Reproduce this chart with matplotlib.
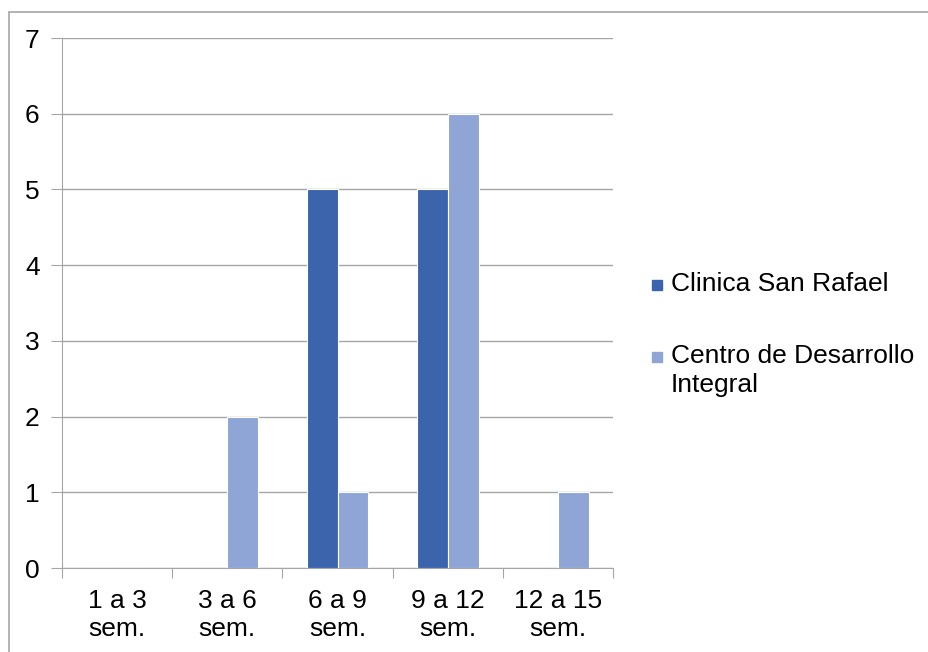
import numpy as np
import matplotlib.pyplot as plt
from matplotlib.patches import Rectangle

plt.rcParams['font.family'] = ['Liberation Sans', 'DejaVu Sans']

categorias = ['1 a 3\nsem.', '3 a 6\nsem.', '6 a 9\nsem.', '9 a 12\nsem.', '12 a 15\nsem.']
clinica = [0, 0, 5, 5, 0]
centro = [0, 2, 1, 6, 1]
series = ['Clinica San Rafael', 'Centro de Desarrollo\nIntegral']
colores = ['#3B64AD', '#8FA5D6']

fig = plt.figure(figsize=(9.29, 6.52), dpi=100)
ax = fig.add_axes([0.0667, 0.1288, 0.5933, 0.8129])

# marco gris alrededor del grafico
fig.patches.append(Rectangle((0.0097, -0.05), 1.1, 1.0316, transform=fig.transFigure,
                             fill=False, edgecolor='#A6A6A6', linewidth=1.2))

x = np.arange(len(categorias))
w = 0.28
ax.bar(x - w / 2, clinica, w, color=colores[0], edgecolor='white', linewidth=0.8, zorder=3)
ax.bar(x + w / 2, centro, w, color=colores[1], edgecolor='white', linewidth=0.8, zorder=3)

ax.set_xlim(-0.5, len(categorias) - 0.5)
ax.set_ylim(0, 7)
ax.set_yticks(range(8))
ax.yaxis.grid(True, color='#A6A6A6', linewidth=1)
ax.set_axisbelow(True)

# marcas en los limites de cada categoria, etiquetas centradas
ax.set_xticks(np.arange(-0.5, len(categorias), 1))
ax.set_xticklabels([])
ax.set_xticks(x, minor=True)
ax.set_xticklabels(categorias, minor=True, fontsize=19, linespacing=1.2)
ax.tick_params(axis='x', which='major', length=7, color='#A6A6A6')
ax.tick_params(axis='x', which='minor', length=0, pad=15)
ax.tick_params(axis='y', length=8, color='#A6A6A6', labelsize=19, pad=8)

for s in ['top', 'right']:
    ax.spines[s].set_visible(False)
for s in ['left', 'bottom']:
    ax.spines[s].set_color('#A6A6A6')

# leyenda a la derecha
ley_y = [285, 357]
for nombre, color, yy in zip(series, colores, ley_y):
    yf = 1 - yy / 652
    fig.patches.append(Rectangle((652 / 929, yf - 5 / 652), 10 / 929, 10 / 652,
                                 transform=fig.transFigure, color=color))
    fig.text(671 / 929, yf + 13 / 652, nombre, fontsize=19, va='top', ha='left',
             linespacing=1.28)

fig.savefig('out.png', dpi=100)
